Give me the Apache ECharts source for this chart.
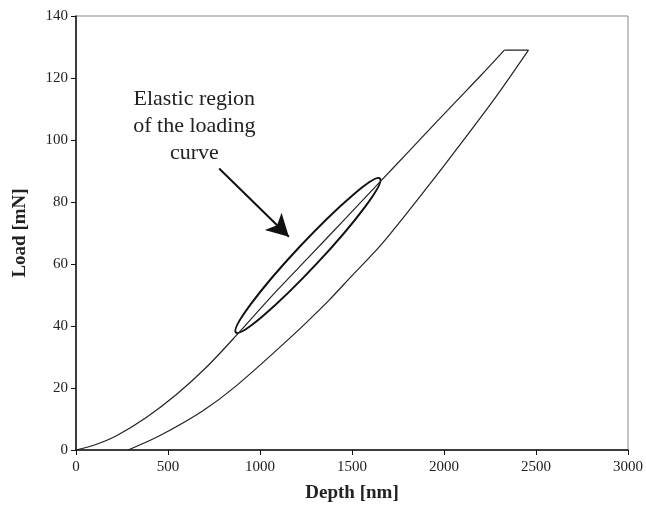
<!DOCTYPE html>
<html>
<head>
<meta charset="utf-8">
<script src="https://cdn.jsdelivr.net/npm/echarts@6/dist/echarts.min.js"></script>
<style>
  html, body { margin: 0; padding: 0; background: #fff; }
  #chart { width: 646px; height: 509px; }
</style>
</head>
<body>
<div id="chart"></div>
<script>
  // loading branch (depth nm, load mN)
  const loadDepth = [0, 100, 220, 380, 544, 707, 869, 1060, 1265, 1460, 1652, 1805, 2058, 2200, 2328];
  const loadForce = [0, 1.6, 4.6, 10.4, 17.8, 26.6, 36.8, 49.4, 62.2, 74.4, 86.5, 96.1, 112.0, 120.8, 129.0];
  // hold at max load
  const holdDepth = [2328, 2459];
  const holdForce = [129.0, 129.0];
  // unloading branch
  const unloadDepth = [2459, 2283, 2076, 1931, 1661, 1490, 1373, 1175, 869, 688, 454, 283];
  const unloadForce = [129.0, 114.0, 97.6, 86.4, 66.4, 55.6, 48.2, 36.8, 20.6, 12.6, 4.6, 0];

  const xTicks = { min: 0, max: 3000, interval: 500 };
  const yTicks = { min: 0, max: 140, interval: 20 };

  // annotation anchors in data units
  const ellipseEnds = [[869, 37.9], [1652, 87.6]];
  const arrowFrom = [778, 90.8];
  const arrowTo = [1157, 68.8];
  const noteAt = [643, 117.4];
  const noteText = 'Elastic region\nof the loading\ncurve';

  const serif = '"Liberation Serif", "DejaVu Serif", serif';

  const pairs = (xs, ys) => xs.map((x, i) => [x, ys[i]]);

  const chart = echarts.init(document.getElementById('chart'));

  const axisCommon = {
    type: 'value',
    splitLine: { show: false },
    axisLine: { show: true, onZero: false, lineStyle: { color: '#111', width: 1.5 } },
    axisTick: { show: true, inside: false, length: 5, lineStyle: { color: '#111' } },
    axisLabel: { fontFamily: serif, fontSize: 15, color: '#222', formatter: (v) => String(v) },
    nameLocation: 'middle',
    nameTextStyle: { fontFamily: serif, fontSize: 19, fontWeight: 'bold', color: '#222' },
  };

  const curveLine = { color: '#222', width: 1.2 };

  chart.setOption({
    animation: false,
    grid: {
      left: 76,
      right: 15,
      top: 16,
      bottom: 59,
      show: true,
      borderColor: '#888',
      borderWidth: 1,
    },
    xAxis: Object.assign({}, axisCommon, xTicks, {
      name: 'Depth [nm]',
      nameGap: 34,
      axisLabel: Object.assign({}, axisCommon.axisLabel, { margin: 10 }),
    }),
    yAxis: Object.assign({}, axisCommon, yTicks, {
      name: 'Load [mN]',
      nameGap: 46,
      axisLabel: Object.assign({}, axisCommon.axisLabel, { margin: 8 }),
    }),
    series: [
      {
        name: 'loading',
        type: 'line',
        data: pairs(loadDepth, loadForce),
        smooth: 0.3,
        showSymbol: false,
        lineStyle: curveLine,
        markLine: {
          silent: true,
          symbol: ['none', 'arrow'],
          symbolSize: [18, 22],
          label: { show: false },
          lineStyle: { color: '#111', width: 2, type: 'solid' },
          data: [[{ coord: arrowFrom }, { coord: arrowTo }]],
        },
      },
      {
        name: 'hold',
        type: 'line',
        data: pairs(holdDepth, holdForce),
        showSymbol: false,
        lineStyle: curveLine,
      },
      {
        name: 'unloading',
        type: 'line',
        data: pairs(unloadDepth, unloadForce),
        smooth: 0.3,
        showSymbol: false,
        lineStyle: curveLine,
      },
    ],
  });

  const drawNotes = () => {
    const p1 = chart.convertToPixel({ gridIndex: 0 }, ellipseEnds[0]);
    const p2 = chart.convertToPixel({ gridIndex: 0 }, ellipseEnds[1]);
    const dx = p2[0] - p1[0];
    const dy = p2[1] - p1[1];
    const t = chart.convertToPixel({ gridIndex: 0 }, noteAt);
    chart.setOption({
      graphic: [
        {
          type: 'ellipse',
          x: (p1[0] + p2[0]) / 2,
          y: (p1[1] + p2[1]) / 2,
          rotation: -Math.atan2(dy, dx),
          shape: { cx: 0, cy: 0, rx: Math.sqrt(dx * dx + dy * dy) / 2, ry: 12 },
          style: { fill: 'none', stroke: '#111', lineWidth: 2 },
          silent: true,
        },
        {
          type: 'text',
          x: t[0],
          y: t[1],
          style: {
            text: noteText,
            font: '22px ' + serif,
            fill: '#222',
            align: 'center',
            verticalAlign: 'top',
            lineHeight: 27,
          },
          silent: true,
        },
      ],
    });
  };
  drawNotes();
</script>
</body>
</html>
